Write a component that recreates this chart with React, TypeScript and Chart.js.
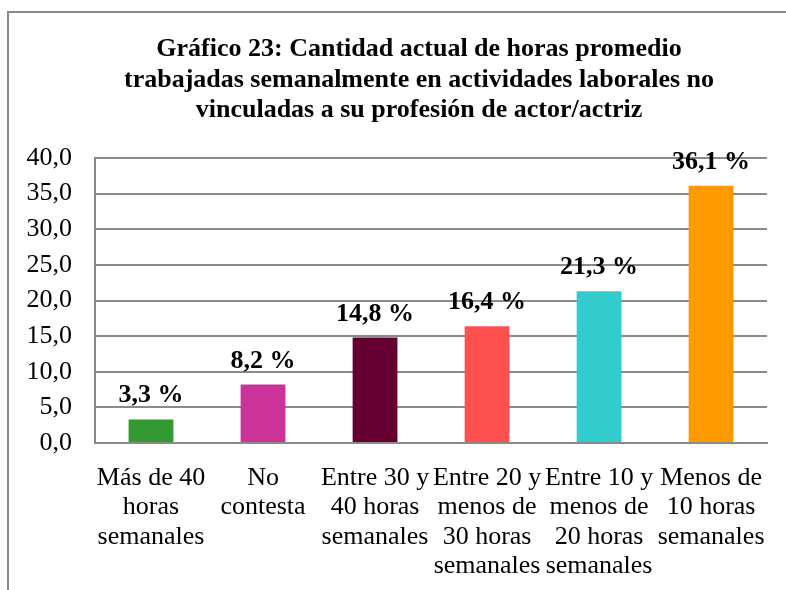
import React, { useEffect, useRef } from "react";
import { Chart, registerables } from "chart.js";

Chart.register(...registerables);

const titleLines = [
  "Gráfico 23: Cantidad actual de horas promedio",
  "trabajadas semanalmente en actividades laborales no",
  "vinculadas a su profesión de actor/actriz",
];

const categories: string[][] = [
  ["Más de 40", "horas", "semanales"],
  ["No", "contesta"],
  ["Entre 30 y", "40 horas", "semanales"],
  ["Entre 20 y", "menos de", "30 horas", "semanales"],
  ["Entre 10 y", "menos de", "20 horas", "semanales"],
  ["Menos de", "10 horas", "semanales"],
];

const values = [3.3, 8.2, 14.8, 16.4, 21.3, 36.1];

const barColors = ["#339933", "#CC3399", "#660033", "#FF5050", "#33CCCC", "#FF9900"];

const yMin = 0;
const yMax = 40;
const yStep = 5;

const FONT = "'Liberation Serif', 'Times New Roman', serif";

const fmt = (v: number) => v.toFixed(1).replace(".", ",");

const dataLabels = {
  id: "dataLabels",
  afterDatasetsDraw(chart: any) {
    const ctx = chart.ctx;
    const meta = chart.getDatasetMeta(0);
    ctx.save();
    ctx.font = `bold 26px ${FONT}`;
    ctx.fillStyle = "#000";
    ctx.textAlign = "center";
    ctx.textBaseline = "alphabetic";
    meta.data.forEach((bar: any, i: number) => {
      ctx.fillText(`${fmt(values[i])} %`, bar.x, bar.y - 17);
    });
    ctx.restore();
  },
};

const titlePlugin = {
  id: "customTitle",
  afterDraw(chart: any) {
    const ctx = chart.ctx;
    ctx.save();
    ctx.font = `bold 26px ${FONT}`;
    ctx.fillStyle = "#000";
    ctx.textAlign = "center";
    ctx.textBaseline = "alphabetic";
    titleLines.forEach((line, i) => {
      ctx.fillText(line, 419, 56 + i * 30.5);
    });
    ctx.restore();
  },
};

export default function App() {
  const ref = useRef<HTMLCanvasElement | null>(null);

  useEffect(() => {
    if (!ref.current) return;
    const chart = new Chart(ref.current, {
      type: "bar",
      data: {
        labels: categories,
        datasets: [
          {
            data: values,
            backgroundColor: barColors,
            borderWidth: 0,
            barPercentage: 0.4,
            categoryPercentage: 1,
          },
        ],
      },
      options: {
        responsive: false,
        animation: false,
        layout: { padding: { top: 158, left: 10, right: 18, bottom: 0 } },
        plugins: {
          legend: { display: false },
          tooltip: { enabled: false },
          title: { display: false },
        },
        scales: {
          x: {
            afterFit: (s: any) => {
              s.height = 147;
            },
            grid: { display: false, drawTicks: false },
            border: { display: true, color: "#8a8a8a", width: 2 },
            ticks: {
              color: "#000",
              font: { family: FONT, size: 26, lineHeight: 1.135 },
              padding: 20,
              maxRotation: 0,
              minRotation: 0,
              autoSkip: false,
            },
          },
          y: {
            min: yMin,
            max: yMax,
            afterFit: (s: any) => {
              s.width = 85;
            },
            grid: { color: "#8a8a8a", lineWidth: 2, drawTicks: false },
            border: { display: true, color: "#8a8a8a", width: 2 },
            ticks: {
              stepSize: yStep,
              color: "#000",
              font: { family: FONT, size: 26 },
              padding: 23,
              callback: (v: any) => fmt(Number(v)),
            },
          },
        },
      },
      plugins: [dataLabels, titlePlugin],
    });
    return () => chart.destroy();
  }, []);

  return (
    <div style={{ position: "absolute", left: 0, top: 0, width: 786, height: 590, overflow: "hidden", background: "#fff" }}>
      <div
        style={{
          position: "absolute",
          left: 7,
          top: 11,
          right: 0,
          bottom: 0,
          borderLeft: "2px solid #8a8a8a",
          borderTop: "2px solid #8a8a8a",
        }}
      />
      <canvas ref={ref} width={786} height={590} style={{ position: "absolute", left: 0, top: 0 }} />
    </div>
  );
}
